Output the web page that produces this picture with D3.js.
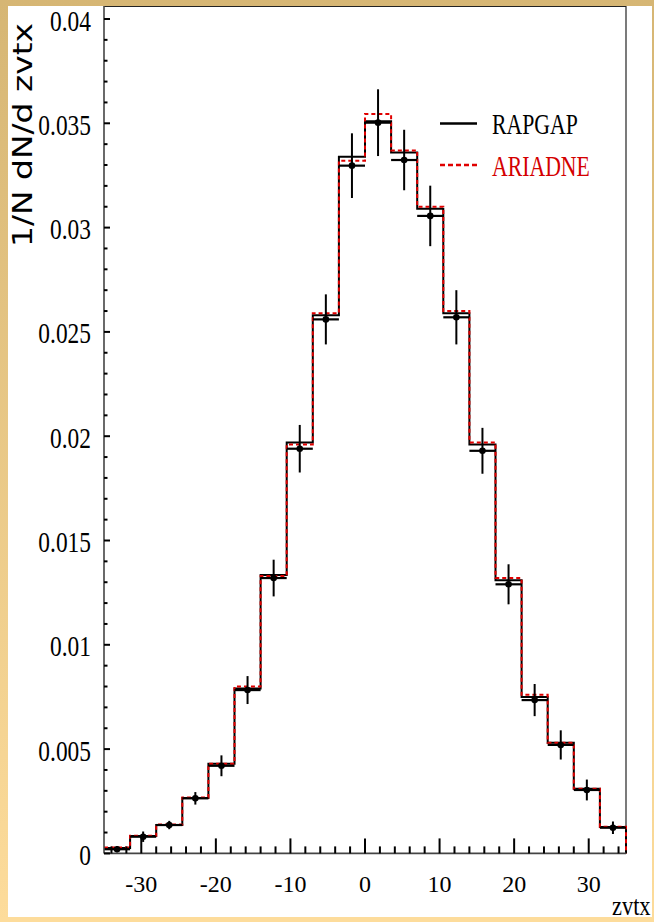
<!DOCTYPE html>
<html>
<head>
<meta charset="utf-8">
<script src="https://cdn.jsdelivr.net/npm/d3@7"></script>
<style>
  html, body { margin: 0; padding: 0; background: #fff; }
  svg { display: block; }
</style>
</head>
<body>
<svg width="654" height="922"></svg>
<script>
// bin edges: 20 bins of 3.5 from -35 to 35
let binLo = [-35, -31.5, -28, -24.5, -21, -17.5, -14, -10.5, -7, -3.5, 0, 3.5, 7, 10.5, 14, 17.5, 21, 24.5, 28, 31.5];
let binWidth = 3.5;

let rapgap = [0.00026, 0.00083, 0.00136, 0.00266, 0.0043, 0.0079, 0.01335, 0.0197, 0.0258, 0.0334,
  0.0351, 0.0336, 0.0309, 0.0259, 0.0196, 0.0131, 0.0075, 0.0053, 0.0031, 0.00127];
let ariadne = [0.00028, 0.00085, 0.00138, 0.00268, 0.0043, 0.0080, 0.0133, 0.0196, 0.0259, 0.0332,
  0.03545, 0.0337, 0.0310, 0.0260, 0.0197, 0.0132, 0.0076, 0.0053, 0.0031, 0.00128];

let dataVals = [0.0002, 0.0008, 0.00136, 0.00264, 0.0042, 0.00783, 0.0132, 0.0194, 0.0256, 0.03297,
  0.03503, 0.03324, 0.03056, 0.0257, 0.0193, 0.0129, 0.00735, 0.0052, 0.00304, 0.00123];
let dataErr = [0.00015, 0.00025, 0.0002, 0.0003, 0.0005, 0.00067, 0.00088, 0.00114, 0.0012, 0.00155,
  0.0016, 0.00145, 0.00145, 0.0013, 0.0011, 0.00096, 0.00077, 0.0007, 0.0005, 0.0003];

let xTicks = [-30, -20, -10, 0, 10, 20, 30];
let yTicks = [0, 0.005, 0.01, 0.015, 0.02, 0.025, 0.03, 0.035, 0.04];
let yTickLabels = ["0", "0.005", "0.01", "0.015", "0.02", "0.025", "0.03", "0.035", "0.04"];
let legendNames = ["RAPGAP", "ARIADNE"];

let svg = d3.select("svg"),
  width = +svg.attr("width"),
  height = +svg.attr("height");

let plotLeft = 104, plotRight = 626, plotTop = 6, plotBottom = 853.4;

let x = d3.scaleLinear().domain([-35, 35]).range([plotLeft, plotRight]);
let y = d3.scaleLinear().domain([0, 0.04]).range([plotBottom, 19]);

// background frame (tan gradient with white panel)
let defs = svg.append("defs");
let grad = defs.append("linearGradient").attr("id", "bg")
  .attr("x1", 0).attr("y1", 0).attr("x2", 0).attr("y2", 1);
grad.append("stop").attr("offset", "0%").attr("stop-color", "#d6b674");
grad.append("stop").attr("offset", "100%").attr("stop-color", "#fddc9b");

svg.append("rect").attr("width", width).attr("height", height).attr("fill", "url(#bg)");
svg.append("rect").attr("x", 8).attr("y", 6).attr("width", 644).attr("height", 911).attr("fill", "#fff");

let serif = "'Liberation Serif', 'Times New Roman', serif";

// frame top / right
svg.append("line").attr("x1", plotLeft).attr("x2", plotRight).attr("y1", plotTop + 0.5).attr("y2", plotTop + 0.5)
  .attr("stroke", "#222").attr("stroke-width", 1.2);
svg.append("line").attr("x1", plotRight).attr("x2", plotRight).attr("y1", plotTop).attr("y2", plotBottom)
  .attr("stroke", "#222").attr("stroke-width", 1.2);

// step outline for a histogram
let stepPath = vals => {
  let p = d3.path();
  p.moveTo(x(binLo[0]), y(vals[0]));
  vals.forEach((v, i) => {
    p.lineTo(x(binLo[i]), y(v));
    p.lineTo(x(binLo[i] + binWidth), y(v));
  });
  p.lineTo(x(binLo[binLo.length - 1] + binWidth), y(0));
  return p.toString();
};

svg.append("path").attr("d", stepPath(rapgap))
  .attr("fill", "none").attr("stroke", "#000").attr("stroke-width", 2);
svg.append("path").attr("d", stepPath(ariadne))
  .attr("fill", "none").attr("stroke", "#e00000").attr("stroke-width", 2)
  .attr("stroke-dasharray", "4,3");

// data points with error bars
let pts = svg.append("g").attr("class", "points");
dataVals.forEach((v, i) => {
  let cx = x(binLo[i] + binWidth / 2);
  pts.append("line")
    .attr("x1", cx).attr("x2", cx)
    .attr("y1", y(v + dataErr[i])).attr("y2", y(Math.max(0, v - dataErr[i])))
    .attr("stroke", "#000").attr("stroke-width", 2);
  pts.append("line")
    .attr("x1", x(binLo[i])).attr("x2", x(binLo[i] + binWidth))
    .attr("y1", y(v)).attr("y2", y(v))
    .attr("stroke", "#000").attr("stroke-width", 2.2);
  pts.append("circle").attr("cx", cx).attr("cy", y(v)).attr("r", 3.3).attr("fill", "#000");
});

// axes lines
svg.append("line").attr("x1", plotLeft).attr("x2", plotLeft).attr("y1", plotTop).attr("y2", plotBottom)
  .attr("stroke", "#444").attr("stroke-width", 1.6);
svg.append("line").attr("x1", plotLeft).attr("x2", plotRight).attr("y1", plotBottom).attr("y2", plotBottom)
  .attr("stroke", "#444").attr("stroke-width", 1.6);

// y ticks: major every 0.005, minor every 0.001
let yMinor = d3.range(0, 41).map(d => d / 1000);
svg.append("g").selectAll("line").data(yMinor).enter().append("line")
  .attr("x1", plotLeft).attr("x2", (d, i) => plotLeft + (i % 5 === 0 ? 6 : 3.5))
  .attr("y1", d => y(d)).attr("y2", d => y(d))
  .attr("stroke", "#000").attr("stroke-width", 2);

// x ticks: major every 10, minor every 2
let xMinor = d3.range(-34, 35, 2);
svg.append("g").selectAll("line").data(xMinor).enter().append("line")
  .attr("x1", d => x(d)).attr("x2", d => x(d))
  .attr("y1", plotBottom).attr("y2", d => plotBottom - (d % 10 === 0 ? 15 : 7))
  .attr("stroke", "#000").attr("stroke-width", 2);

// y tick labels (narrow serif)
svg.append("g").selectAll("g").data(yTicks).enter().append("g")
  .attr("transform", d => `translate(91,${y(d) + 11.5}) scale(0.78,1)`)
  .append("text")
  .attr("text-anchor", "end")
  .attr("font-family", serif).attr("font-size", 30).attr("fill", "#000")
  .text((d, i) => yTickLabels[i]);

// x tick labels
svg.append("g").selectAll("text").data(xTicks).enter().append("text")
  .attr("x", d => x(d)).attr("y", 891.5)
  .attr("text-anchor", "middle")
  .attr("font-family", serif).attr("font-size", 24).attr("fill", "#000")
  .text(d => d);

// y axis title
svg.append("text")
  .attr("transform", "translate(32,23) rotate(-90)")
  .attr("text-anchor", "end")
  .attr("font-family", "'DejaVu Sans', sans-serif").attr("font-size", 27)
  .attr("textLength", 224).attr("lengthAdjust", "spacingAndGlyphs")
  .attr("fill", "#000")
  .text("1/N dN/d zvtx");

// bottom band
svg.append("rect").attr("x", 0).attr("y", 917).attr("width", width).attr("height", 5).attr("fill", "#fddc9b");

// x axis title, kept inside the white panel
svg.append("g").attr("transform", "translate(612,915) scale(0.8,1)")
  .append("text")
  .attr("font-family", serif).attr("font-size", 28).attr("fill", "#000")
  .text("zvtx");

// legend
let legY = [123.5, 165];
let legColor = ["#000", "#d40000"];
let leg = svg.append("g").attr("class", "legend");
leg.append("line").attr("x1", 440).attr("x2", 477).attr("y1", legY[0]).attr("y2", legY[0])
  .attr("stroke", "#000").attr("stroke-width", 2.5);
leg.append("line").attr("x1", 440).attr("x2", 477).attr("y1", legY[1]).attr("y2", legY[1])
  .attr("stroke", "#e00000").attr("stroke-width", 2.5).attr("stroke-dasharray", "5,3");
legendNames.forEach((n, i) => {
  leg.append("g").attr("transform", `translate(492,${legY[i] + 10.5}) scale(0.75,1)`)
    .append("text")
    .attr("font-family", serif).attr("font-size", 29).attr("fill", legColor[i])
    .text(n);
});
</script>
</body>
</html>
